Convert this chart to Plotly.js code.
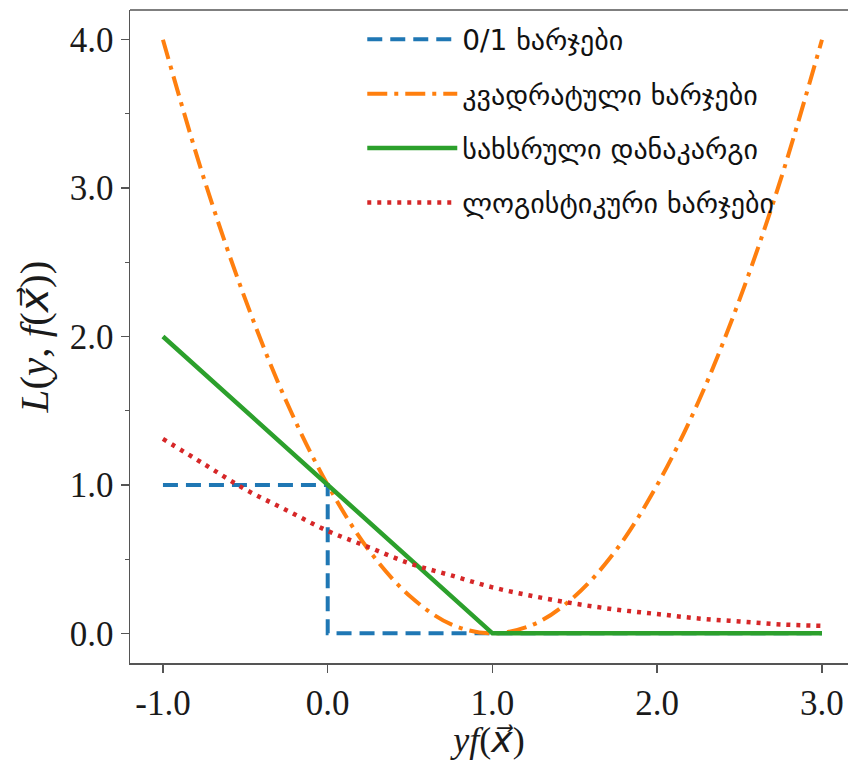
<!DOCTYPE html>
<html>
<head>
<meta charset="utf-8">
<script src="https://cdn.plot.ly/plotly-3.0.1.min.js"></script>
<style>html,body{margin:0;padding:0;background:#fff;}#chart{width:848px;height:760px;}</style>
</head>
<body>
<div id="chart"></div>
<script>
// Series names
const names = ["0/1 ხარჯები", "კვადრატული ხარჯები", "სახსრული დანაკარგი", "ლოგისტიკური ხარჯები"];

// 0/1 loss
const x01 = [-1, 0, 0, 3];
const y01 = [1, 1, 0, 0];

// square loss
const xSq = [-1, -0.75, -0.5, -0.25, 0, 0.25, 0.5, 0.75, 1, 1.25, 1.5, 1.75, 2, 2.25, 2.5, 2.75, 3];
const ySq = [4.0, 3.06, 2.25, 1.56, 1.0, 0.56, 0.25, 0.06, 0.0, 0.06, 0.25, 0.56, 1.0, 1.56, 2.25, 3.06, 4.0];

// hinge loss
const xHinge = [-1, 1, 3];
const yHinge = [2, 0, 0];

// logistic loss
const xLog = [-1, -0.75, -0.5, -0.25, 0, 0.25, 0.5, 0.75, 1, 1.25, 1.5, 1.75, 2, 2.25, 2.5, 2.75, 3];
const yLog = [1.31, 1.14, 0.97, 0.83, 0.69, 0.58, 0.47, 0.39, 0.31, 0.25, 0.20, 0.16, 0.13, 0.10, 0.08, 0.06, 0.05];

// tick labels
const xTickVals = [-1, 0, 1, 2, 3];
const xTickText = ["-1.0", "0.0", "1.0", "2.0", "3.0"];
const yTickVals = [0, 1, 2, 3, 4];
const yTickText = ["0.0", "1.0", "2.0", "3.0", "4.0"];

const traces = [
  {x: x01, y: y01, name: names[0], legendgroup: "a", mode: "lines",
   line: {color: "#1f77b4", width: 4, dash: "15px,8px"}},
  {x: xSq, y: ySq, name: names[1], legendgroup: "b", mode: "lines",
   line: {color: "#ff7f0e", width: 4, dash: "20px,7px,4px,7px", shape: "spline"}},
  {x: xHinge, y: yHinge, name: names[2], legendgroup: "c", mode: "lines",
   line: {color: "#2ca02c", width: 4.5}},
  {x: xLog, y: yLog, name: names[3], legendgroup: "d", mode: "lines",
   line: {color: "#d62728", width: 4.5, dash: "4px,6px", shape: "spline"}}
];

const tickFont = {family: "Liberation Serif, Times New Roman, serif", size: 35, color: "#1a1a1a"};
const titleFont = {family: "Liberation Serif, Times New Roman, serif", size: 36, color: "#1a1a1a"};
const yTitleFont = {family: "Liberation Serif, Times New Roman, serif", size: 41, color: "#1a1a1a"};
const vecX = "<span style=\"font-family:'DejaVu Sans'\">x⃗</span>";

const layout = {
  width: 848, height: 760,
  margin: {l: 130, r: 0, t: 10, b: 97},
  paper_bgcolor: "#fff", plot_bgcolor: "#fff",
  showlegend: true,
  legend: {
    x: 0.3235, y: 0.993, xanchor: "left", yanchor: "top",
    bgcolor: "rgba(0,0,0,0)", borderwidth: 0,
    font: {family: "DejaVu Sans, sans-serif", size: 28, color: "#111"},
    tracegroupgap: 15, itemwidth: 90
  },
  xaxis: {
    range: [-1.2, 3.158], showgrid: false, zeroline: false,
    showline: true, linecolor: "#555", linewidth: 1.5, mirror: false,
    ticks: "outside", ticklen: 8, tickwidth: 1.5, tickcolor: "#555",
    tickvals: xTickVals, ticktext: xTickText, tickfont: tickFont,
    title: {text: "<i>yf</i>(<i>" + vecX + "</i>)", font: titleFont, standoff: 7}
  },
  yaxis: {
    range: [-0.2, 4.2], showgrid: false, zeroline: false,
    showline: true, linecolor: "#555", linewidth: 1.5,
    ticks: "outside", ticklen: 8, tickwidth: 1.5, tickcolor: "#555",
    tickvals: yTickVals, ticktext: yTickText, tickfont: tickFont,
    minor: {dtick: 0.5, ticks: "outside", ticklen: 4, tickwidth: 1.2, tickcolor: "#555", showgrid: false},
    title: {text: "<i>L</i>(<i>y</i>, <i>f</i>(<i>" + vecX + "</i>))", font: yTitleFont, standoff: 8}
  },
  shapes: [
    {type: "line", xref: "paper", yref: "paper", x0: 0, x1: 1, y0: 1, y1: 1,
     line: {color: "#555", width: 1.5}}
  ]
};

Plotly.newPlot("chart", traces, layout, {displayModeBar: false, staticPlot: true});
</script>
</body>
</html>
